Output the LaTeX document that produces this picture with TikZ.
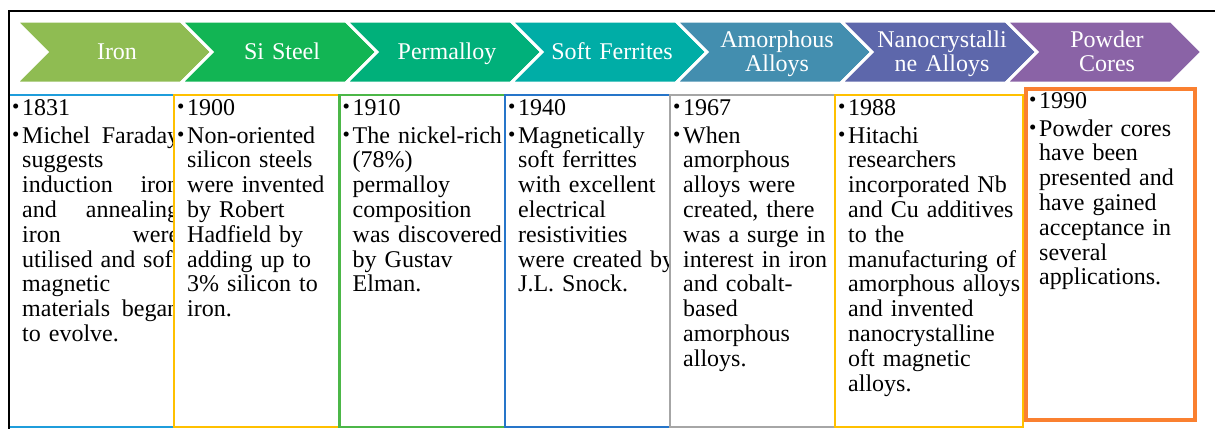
\documentclass[tikz,border=0pt]{standalone}
\usepackage{fontspec}
\setmainfont{Liberation Serif}
\usepackage{tikz}
\usepackage{xcolor}

\definecolor{ironc}{RGB}{143,188,82}
\definecolor{siliconc}{RGB}{18,181,84}
\definecolor{permc}{RGB}{0,176,122}
\definecolor{ferric}{RGB}{0,173,166}
\definecolor{amorc}{RGB}{67,142,175}
\definecolor{nanoc}{RGB}{93,103,171}
\definecolor{powderc}{RGB}{138,99,166}
\definecolor{linea}{RGB}{31,157,219}
\definecolor{lineb}{RGB}{255,192,0}
\definecolor{linec}{RGB}{76,183,72}
\definecolor{lined}{RGB}{38,117,201}
\definecolor{linee}{RGB}{166,166,166}
\definecolor{linef}{RGB}{250,128,48}

\newcommand{\itm}{\makebox[10pt][l]{\raisebox{1.5pt}{\fontsize{21}{21}\selectfont\textbullet}}}
\newcommand{\ind}{\hspace*{10pt}}
\newcommand{\jst}[1]{\hbox to 157pt{#1}}

\begin{document}
\begin{tikzpicture}[x=1pt,y=-1pt,
		chev/.style={fill=#1,draw=white,line width=3pt},
		head/.style={text=white,font=\fontsize{24}{24}\selectfont,text width=150pt,align=center,anchor=base,inner sep=0pt},
		box/.style={draw=#1,fill=white,line width=2.5pt},
		txt/.style={font=\fontsize{24}{24.8}\selectfont,text width=#1,align=left,anchor=base west,inner sep=0pt},
		txt/.default=220pt]
	\useasboundingbox (0,0) rectangle (1215,429);
	% chevrons
	\path[chev=ironc] (16,21) -- ++(165,0) -- ++(31,31) -- ++(-31,31) -- ++(-165,0) -- ++(31,-31) -- cycle;
	\path[chev=siliconc] (181,21) -- ++(165,0) -- ++(31,31) -- ++(-31,31) -- ++(-165,0) -- ++(31,-31) -- cycle;
	\path[chev=permc] (346,21) -- ++(165,0) -- ++(31,31) -- ++(-31,31) -- ++(-165,0) -- ++(31,-31) -- cycle;
	\path[chev=ferric] (511,21) -- ++(165,0) -- ++(31,31) -- ++(-31,31) -- ++(-165,0) -- ++(31,-31) -- cycle;
	\path[chev=amorc] (676,21) -- ++(165,0) -- ++(31,31) -- ++(-31,31) -- ++(-165,0) -- ++(31,-31) -- cycle;
	\path[chev=nanoc] (841,21) -- ++(165,0) -- ++(31,31) -- ++(-31,31) -- ++(-165,0) -- ++(31,-31) -- cycle;
	\path[chev=powderc] (1006,21) -- ++(165,0) -- ++(31,31) -- ++(-31,31) -- ++(-165,0) -- ++(31,-31) -- cycle;
	\node[head] (iron) at (117,59) {Iron};
	\node[head] (sisteel) at (282,59) {Si Steel};
	\node[head] (permalloy) at (447,59) {Permalloy};
	\node[head] (ferrites) at (612,59) {Soft Ferrites};
	\node[head] (amorphous) at (777,47) {Amorphous\\Alloys};
	\node[head] (nanocryst) at (942,47) {Nanocrystalli\\ne Alloys};
	\node[head] (powder) at (1107,47) {Powder\\Cores};

	% boxes
	\draw[box=linea] (9,95) rectangle (174,427);
	\node[txt] (t1831) at (12,115) {\itm 1831\\[3.2pt]
		\itm\jst{Michel\hfill Faraday}\\
		\ind suggests\\
		\ind\jst{induction\hfill iron}\\
		\ind\jst{and\hfill annealing}\\
		\ind\jst{iron\hfill were}\\
		\ind\jst{utilised\hfill and\hfill soft}\\
		\ind magnetic\\
		\ind\jst{materials\hfill began}\\
		\ind to evolve.};
	\draw[box=lineb] (174,95) rectangle (339.5,427);
	\node[txt] (t1900) at (177,115) {\itm 1900\\[3.2pt]
		\itm Non-oriented\\
		\ind silicon steels\\
		\ind were invented\\
		\ind by Robert\\
		\ind Hadfield by\\
		\ind adding up to\\
		\ind 3\% silicon to\\
		\ind iron.};
	\draw[box=linec] (339.5,95) rectangle (505,427);
	\node[txt] (t1910) at (342.5,115) {\itm 1910\\[3.2pt]
		\itm The nickel-rich\\
		\ind (78\%)\\
		\ind permalloy\\
		\ind composition\\
		\ind was discovered\\
		\ind by Gustav\\
		\ind Elman.};
	\draw[box=lined] (505,95) rectangle (670,427);
	\node[txt] (t1940) at (508,115) {\itm 1940\\[3.2pt]
		\itm Magnetically\\
		\ind soft ferrittes\\
		\ind with excellent\\
		\ind electrical\\
		\ind resistivities\\
		\ind were created by\\
		\ind J.L. Snock.};
	\draw[box=linee] (670,95) rectangle (835,427);
	\node[txt] (t1967) at (673,115) {\itm 1967\\[3.2pt]
		\itm When\\
		\ind amorphous\\
		\ind alloys were\\
		\ind created, there\\
		\ind was a surge in\\
		\ind interest in iron\\
		\ind and cobalt-\\
		\ind based\\
		\ind amorphous\\
		\ind alloys.};
	\draw[box=lineb] (835,95) rectangle (1023,427);
	\node[txt] (t1988) at (838,115) {\itm 1988\\[3.2pt]
		\itm Hitachi\\
		\ind researchers\\
		\ind incorporated Nb\\
		\ind and Cu additives\\
		\ind to the\\
		\ind manufacturing of\\
		\ind amorphous alloys\\
		\ind and invented\\
		\ind nanocrystalline\\
		\ind oft magnetic\\
		\ind alloys.};
	\draw[box=linef,line width=3.2pt] (1026,89) rectangle (1195,420);
	\node[txt] (t1990) at (1029,108) {\itm 1990\\[3.2pt]
		\itm Powder cores\\
		\ind have been\\
		\ind presented and\\
		\ind have gained\\
		\ind acceptance in\\
		\ind several\\
		\ind applications.};

	% frame
	\draw[line width=2.2pt] (1215,11) -- (9,11) -- (9,429);
\end{tikzpicture}
\end{document}
